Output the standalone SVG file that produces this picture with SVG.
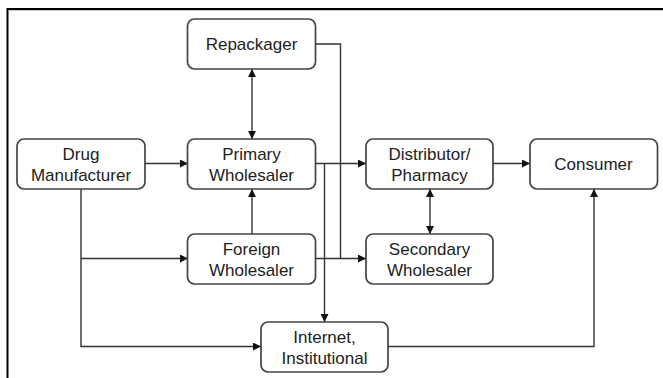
<svg xmlns="http://www.w3.org/2000/svg" width="663" height="378" viewBox="0 0 663 378">
<defs>
<marker id="arr" viewBox="0 0 10 10" refX="10" refY="5" markerWidth="8" markerHeight="8" markerUnits="userSpaceOnUse" orient="auto-start-reverse">
<path d="M0,0 L10,5 L0,10 z" fill="#111"/>
</marker>
<style>
.box{fill:#fff;stroke:#444;stroke-width:1.7}
.t{font-family:"Liberation Sans",Arial,sans-serif;font-size:17px;fill:#222;text-anchor:middle}
.c{fill:none;stroke:#333;stroke-width:1.4}
</style>
</defs>
<rect width="663" height="378" fill="#fff"/>
<path d="M7.5,378 V9 H663" fill="none" stroke="#000" stroke-width="2"/>
<path d="M9,10.5 H663" fill="none" stroke="#ccc" stroke-width="1"/>
<g id="connectors">
<line class="c" x1="252" y1="69" x2="252" y2="139" marker-start="url(#arr)" marker-end="url(#arr)"/>
<line class="c" x1="145" y1="163.5" x2="188" y2="163.5" marker-end="url(#arr)"/>
<line class="c" x1="315.5" y1="163.5" x2="366" y2="163.5" marker-end="url(#arr)"/>
<line class="c" x1="493" y1="163.5" x2="530" y2="163.5" marker-end="url(#arr)"/>
<line class="c" x1="430" y1="189" x2="430" y2="234" marker-start="url(#arr)" marker-end="url(#arr)"/>
<line class="c" x1="252" y1="234" x2="252" y2="189" marker-end="url(#arr)"/>
<polyline class="c" points="315.5,44 340.5,44 340.5,258.5"/>
<line class="c" x1="315.5" y1="258.5" x2="366" y2="258.5" marker-end="url(#arr)"/>
<line class="c" x1="324.5" y1="163.5" x2="324.5" y2="322" marker-end="url(#arr)"/>
<polyline class="c" points="81,189 81,346.5 261,346.5" marker-end="url(#arr)"/>
<line class="c" x1="81" y1="258.5" x2="188" y2="258.5" marker-end="url(#arr)"/>
<polyline class="c" points="388,346.5 594,346.5 594,189" marker-end="url(#arr)"/>
</g>
<g id="repackager"><rect class="box" x="187.5" y="19" width="128" height="50" rx="7"/><text class="t" x="251.5" y="50">Repackager</text></g>
<g id="drug-manufacturer"><rect class="box" x="17" y="139" width="128" height="50" rx="7"/><text class="t" x="81" y="160">Drug</text><text class="t" x="81" y="180.5">Manufacturer</text></g>
<g id="primary-wholesaler"><rect class="box" x="187.5" y="139" width="128" height="50" rx="7"/><text class="t" x="251.5" y="160">Primary</text><text class="t" x="251.5" y="180.5">Wholesaler</text></g>
<g id="distributor-pharmacy"><rect class="box" x="366" y="139" width="127" height="50" rx="7"/><text class="t" x="429.5" y="160">Distributor/</text><text class="t" x="429.5" y="180.5">Pharmacy</text></g>
<g id="consumer"><rect class="box" x="530" y="139" width="127.5" height="50" rx="7"/><text class="t" x="593.5" y="170">Consumer</text></g>
<g id="foreign-wholesaler"><rect class="box" x="187.5" y="234" width="128" height="50" rx="7"/><text class="t" x="251.5" y="255">Foreign</text><text class="t" x="251.5" y="275.5">Wholesaler</text></g>
<g id="secondary-wholesaler"><rect class="box" x="366" y="234" width="127" height="50" rx="7"/><text class="t" x="429.5" y="255">Secondary</text><text class="t" x="429.5" y="275.5">Wholesaler</text></g>
<g id="internet-institutional"><rect class="box" x="261" y="322" width="127" height="50" rx="7"/><text class="t" x="324.5" y="343">Internet,</text><text class="t" x="324.5" y="363.5">Institutional</text></g>
</svg>
